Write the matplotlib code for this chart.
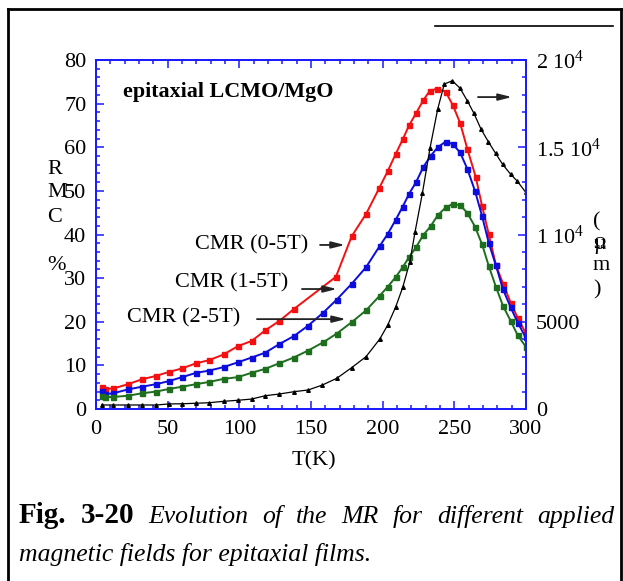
import matplotlib
matplotlib.use('Agg')
import matplotlib.pyplot as plt
from matplotlib.lines import Line2D
from matplotlib.ticker import MultipleLocator, FixedLocator

plt.rcParams['font.family'] = ['Liberation Serif', 'DejaVu Serif']
plt.rcParams['mathtext.fontset'] = 'custom'
plt.rcParams['mathtext.rm'] = 'Liberation Serif'
plt.rcParams['mathtext.it'] = 'Liberation Serif:italic'
plt.rcParams['mathtext.bf'] = 'Liberation Serif:bold'

# ---------------- data ----------------
T_red = [4, 6.3, 12, 22.5, 32, 42, 51, 60, 70, 79, 89, 99, 108.6, 118, 128, 138,
         167.4, 178.4, 188.4, 197.7, 203.5, 209, 214, 218.4, 223.3, 228.4, 233, 238,
         244, 249, 254, 259, 265, 269.3, 274, 279, 284, 289.3, 294.2, 299.8]
mr_red = [5.0, 4.6, 4.7, 5.7, 6.8, 7.6, 8.5, 9.3, 10.5, 11.2, 12.5, 14.4, 15.6, 18.0,
          20.2, 22.9, 30.3, 39.6, 44.7, 50.7, 54.5, 58.4, 61.8, 65.0, 67.8, 70.8, 73.0,
          73.4, 72.7, 69.6, 65.6, 59.7, 53.1, 46.6, 40.1, 33.0, 28.7, 24.4, 20.9, 17.4]

T_bg = [4, 6.3, 12, 22.5, 32, 42, 51, 60, 70, 79, 89, 99, 108.6, 118, 128, 138, 148,
        158.6, 168, 178.4, 188.4, 198, 203.5, 209, 214, 218.4, 223.3, 228.4, 233.5,
        238.4, 244, 249, 254, 259, 264.4, 269.3, 274, 279, 284, 289.3, 294.2, 299.8]
mr_blue = [4.1, 3.4, 3.6, 4.5, 5.1, 5.7, 6.4, 7.3, 8.3, 8.8, 9.6, 10.7, 11.8, 12.9,
           14.9, 16.7, 19.1, 22.1, 25.1, 28.7, 32.5, 37.4, 40.1, 43.3, 46.4, 49.3,
           52.0, 55.5, 58.0, 60.0, 61.3, 60.7, 58.8, 55.1, 50.0, 44.3, 38.1, 32.9,
           27.4, 23.3, 19.8, 16.4]
mr_green = [3.0, 2.7, 2.75, 3.05, 3.6, 4.0, 4.6, 5.1, 5.7, 6.2, 6.9, 7.3, 8.3, 9.2,
            10.5, 11.8, 13.4, 15.3, 17.3, 19.9, 22.6, 26.0, 28.0, 30.2, 32.5, 34.8,
            37.1, 39.9, 41.9, 44.4, 46.2, 47.0, 46.7, 45.0, 41.8, 37.8, 32.8, 28.0,
            23.6, 20.2, 16.9, 14.3]

T_rho = [4, 12, 22.5, 32, 42, 51, 60, 70, 79, 89, 99, 108.6, 118, 128, 138, 148, 158,
         168, 178.4, 188.4, 198, 203.5, 209, 214, 219, 222.6, 227.7, 233, 238.4, 243,
         248.6, 254, 259, 263.7, 268.6, 273.7, 278.8, 283.7, 289.3, 294, 299.8]
rho = [230, 230, 230, 230, 230, 290, 300, 330, 360, 440, 500, 570, 760, 860, 990,
       1090, 1375, 1760, 2370, 3000, 4010, 4810, 5830, 6970, 8440, 10150, 12360,
       14940, 17190, 18620, 18810, 18380, 17670, 16940, 16040, 15320, 14650, 14020,
       13450, 13050, 12420]

x_ticks = [0, 50, 100, 150, 200, 250, 300]
y_ticks = [0, 10, 20, 30, 40, 50, 60, 70, 80]
rho_ticks = [0, 5000, 10000, 15000, 20000]
rho_ticklabels = ['0', '5000', r'$\mathregular{1\ 10^{4}}$',
                  r'$\mathregular{1.5\ 10^{4}}$', r'$\mathregular{2\ 10^{4}}$']

# ---------------- figure ----------------
W, H = 623, 581
fig = plt.figure(figsize=(W / 100, H / 100), dpi=100)


def fx(px):
    return px / W


def fy(py):
    return 1 - py / H


ax = fig.add_axes([fx(96), fy(409), fx(526) - fx(96), fy(60) - fy(409)])
ax2 = ax.twinx()

RED = '#f41010'
BLUE = '#0c0cdc'
GREEN = '#1d6f1d'
AXC = '#1a1aff'

ax.plot(T_red, mr_red, '-s', color=RED, ms=3.6, lw=1.4, zorder=3)
ax.plot(T_bg, mr_blue, '-s', color=BLUE, ms=3.6, lw=1.4, zorder=3)
ax.plot(T_bg, mr_green, '-s', color=GREEN, ms=3.6, lw=1.4, zorder=3)
ax2.plot(T_rho, rho, '-^', color='black', ms=2.6, lw=0.9)

ax.set_xlim(0, 300)
ax.set_ylim(0, 80)
ax2.set_ylim(0, 20000)

ax.xaxis.set_major_locator(FixedLocator(x_ticks))
ax.xaxis.set_minor_locator(MultipleLocator(10))
ax.yaxis.set_major_locator(FixedLocator(y_ticks))
ax.yaxis.set_minor_locator(MultipleLocator(2))
ax2.yaxis.set_major_locator(FixedLocator(rho_ticks))
ax2.yaxis.set_minor_locator(MultipleLocator(1000))
ax2.set_yticklabels(rho_ticklabels)

for a in (ax, ax2):
    for s in a.spines.values():
        s.set_color(AXC)
        s.set_linewidth(1.3)

ax.tick_params(axis='both', which='both', direction='in', color=AXC,
               top=True, right=False, labelsize=16, width=1.1)
ax.tick_params(which='major', length=6)
ax.tick_params(which='minor', length=3)
ax.tick_params(axis='y', pad=7)
ax.tick_params(axis='x', pad=8)
ax2.tick_params(axis='y', which='both', direction='in', color=AXC,
                labelsize=16, width=1.1, pad=7)
ax2.tick_params(which='major', length=6)
ax2.tick_params(which='minor', length=3)

# text inside
ax.text(18.8, 72.7, 'epitaxial LCMO/MgO', fontweight='bold', fontsize=15.8,
        ha='left', va='center')

arrow_kw = dict(arrowstyle='-|>,head_length=0.8,head_width=0.2', color='#222222',
                lw=1.3, shrinkA=0, shrinkB=0)
ax.text(108.8, 37.6, 'CMR (0-5T)', ha='center', va='center', fontsize=16)
ax.annotate('', xy=(173.7, 37.6), xytext=(156.3, 37.6), arrowprops=arrow_kw)
ax.text(94.9, 28.9, 'CMR (1-5T)', ha='center', va='center', fontsize=16)
ax.annotate('', xy=(168.1, 27.5), xytext=(143.7, 27.5), arrowprops=arrow_kw)
ax.text(61.4, 20.9, 'CMR (2-5T)', ha='center', va='center', fontsize=16)
ax.annotate('', xy=(174.4, 20.6), xytext=(112.3, 20.6), arrowprops=arrow_kw)
ax.annotate('', xy=(290.2, 71.5), xytext=(266.5, 71.5), arrowprops=arrow_kw)

# axis labels (stacked letters, as in the original)
for ch, yy in (('R', 170), ('M', 192), ('C', 217), ('%', 266)):
    fig.text(fx(47), fy(yy), ch, fontsize=16, ha='left', va='center')
for ch, yy in (('(', 222), ('µ', 244), ('m', 265), (')', 290)):
    fig.text(fx(593), fy(yy), ch, fontsize=16, ha='left', va='center')
fig.text(fx(593), fy(244), 'Ω', fontsize=12, ha='left', va='center')
fig.text(fx(314), fy(461), 'T(K)', fontsize=16, ha='center', va='center')

# frame
fig.add_artist(Line2D([fx(7.5), fx(7.5)], [fy(9), 0], color='black', lw=2.0,
                      transform=fig.transFigure))
fig.add_artist(Line2D([fx(7.5), fx(621)], [fy(9), fy(9)], color='black', lw=2.0,
                      transform=fig.transFigure))
fig.add_artist(Line2D([fx(621), fx(621)], [fy(9), 0], color='black', lw=2.0,
                      transform=fig.transFigure))
fig.add_artist(Line2D([fx(435), fx(613)], [fy(26), fy(26)], color='black', lw=1.2,
                      transform=fig.transFigure))

# caption, line 1 justified
words1 = [('Fig.', 'bold', 'normal', 21), ('3-20', 'bold', 'normal', 21),
          ('Evolution', 'normal', 'italic', 18.5), ('of', 'normal', 'italic', 18.5),
          ('the', 'normal', 'italic', 18.5), ('MR', 'normal', 'italic', 18.5),
          ('for', 'normal', 'italic', 18.5), ('different', 'normal', 'italic', 18.5),
          ('applied', 'normal', 'italic', 18.5)]
x_left, x_right, base1 = 19, 614, 523
texts = [fig.text(0, fy(base1), w, fontweight=fw, fontstyle=fs, fontsize=sz,
                  ha='left', va='baseline') for (w, fw, fs, sz) in words1]
renderer = fig.canvas.get_renderer()
widths = [t.get_window_extent(renderer).width for t in texts]
gap = (x_right - x_left - sum(widths)) / (len(widths) - 1)
xpos = x_left
for t, wdt in zip(texts, widths):
    t.set_x(fx(xpos))
    xpos += wdt + gap

fig.text(fx(19), fy(561), 'magnetic fields for epitaxial films.', fontstyle='italic',
         fontsize=18.5, ha='left', va='baseline')

fig.savefig('out.png', dpi=100)
